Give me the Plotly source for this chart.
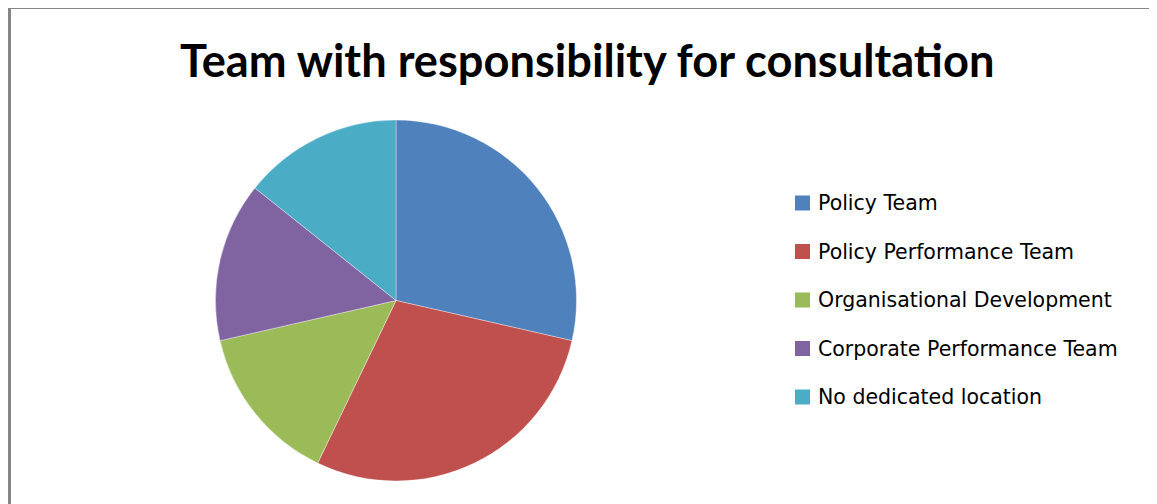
import plotly.graph_objects as go

categories = ["Policy Team", "Policy Performance Team", "Organisational Development",
              "Corporate Performance Team", "No dedicated location"]
values = [2, 2, 1, 1, 1]
colors = ["#4F81BD", "#C0504D", "#9BBB59", "#8064A2", "#4BACC6"]
title = "Team with responsibility for consultation"

W, H = 1157, 504
OFF = 8  # page body margin


def px(x):
    return (x - OFF) / W


def py(y):
    return 1 - (y - OFF) / H


fig = go.Figure(go.Pie(
    labels=categories, values=values, sort=False, direction="clockwise", rotation=0,
    marker=dict(colors=colors, line=dict(width=0.6, color="rgba(255,255,255,0.6)")),
    textinfo="none", hoverinfo="label+value+percent",
    domain=dict(x=[px(215.5), px(576.5)], y=[py(481), py(120)]),
    showlegend=False,
))

shapes = [
    dict(type="line", xref="paper", yref="paper", x0=px(8), x1=1, y0=py(8.5), y1=py(8.5),
         line=dict(color="#868686", width=1)),
    dict(type="line", xref="paper", yref="paper", x0=px(9.5), x1=px(9.5), y0=py(8), y1=0,
         line=dict(color="#868686", width=3)),
]
annotations = [
    dict(text="<b>" + title + "</b>", x=px(587), y=py(60), xref="paper", yref="paper",
         showarrow=False, xanchor="center", yanchor="middle",
         font=dict(family="Lato", size=45.2, color="#000000")),
]
y0, dy = 203, 48.5
for i, (cat, col) in enumerate(zip(categories, colors)):
    yc = y0 + i * dy
    shapes.append(dict(type="rect", xref="paper", yref="paper",
                       x0=px(795), x1=px(810), y0=py(yc - 7.5), y1=py(yc + 7.5),
                       fillcolor=col, line=dict(width=0)))
    annotations.append(dict(text=cat, x=px(816), y=py(yc), xref="paper", yref="paper",
                            showarrow=False, xanchor="left", yanchor="middle",
                            font=dict(family="DejaVu Sans", size=20.5, color="#000000")))

fig.update_layout(
    width=W, height=H, margin=dict(l=0, r=0, t=0, b=0),
    paper_bgcolor="white", plot_bgcolor="white",
    shapes=shapes, annotations=annotations,
)
fig.write_html("out.html")
